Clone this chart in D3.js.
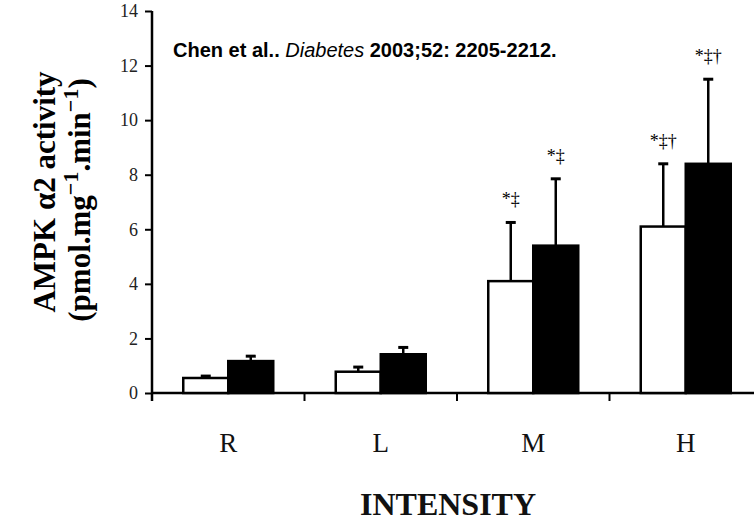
<!DOCTYPE html>
<html><head><meta charset="utf-8">
<script src="https://cdn.jsdelivr.net/npm/d3@7"></script>
<style>body{margin:0;background:#fff}svg{display:block}</style>
</head><body>
<svg id="c" width="754" height="521"></svg>
<script>
const categories = ["R", "L", "M", "H"];
const seriesNames = ["open", "filled"];
const openValues = [0.55, 0.78, 4.1, 6.1];
const openErrors = [0.07, 0.17, 2.15, 2.3];
const filledValues = [1.17, 1.42, 5.4, 8.4];
const filledErrors = [0.18, 0.25, 2.45, 3.1];
const openMarks = ["", "", "*‡", "*‡†"];
const filledMarks = ["", "", "*‡", "*‡†"];
const yTicks = [0, 2, 4, 6, 8, 10, 12, 14];
const citation = ["Chen et al.. ", "Diabetes", " 2003;52: 2205-2212."];

const svg = d3.select("#c");
const serif = "'Liberation Serif','Times New Roman',serif";
const y = d3.scaleLinear().domain([0, 14]).range([393, 11]);
const x = d3.scaleBand().domain(categories).range([152, 762]).padding(0);
const xs = d3.scaleBand().domain(seriesNames).range([0, 90]);
const off = (x.bandwidth() - 90) / 2;

// y axis
const yAxis = d3.axisLeft(y).tickValues(yTicks).tickSize(7).tickPadding(7).tickFormat(d3.format("d"));
const gy = svg.append("g").attr("transform", "translate(152,0)").call(yAxis);
gy.select(".domain").attr("stroke-width", 2.5).attr("d", `M0,${y(14)}V${y(0)+8}`);
gy.selectAll(".tick line").attr("stroke-width", 2);
gy.selectAll(".tick text").attr("font-family", serif).attr("font-size", 18).attr("fill", "#222");

// x axis line and group separators
const bounds = d3.range(0, categories.length).map(i => x.range()[0] + i * x.step());
svg.append("line").attr("x1", 152).attr("x2", 754).attr("y1", y(0)).attr("y2", y(0))
  .attr("stroke", "#000").attr("stroke-width", 2.5);
svg.selectAll(".sep").data(bounds.slice(1)).join("line")
  .attr("x1", d => d).attr("x2", d => d).attr("y1", y(0)).attr("y2", y(0) + 8)
  .attr("stroke", "#000").attr("stroke-width", 2);
svg.selectAll(".xl").data(categories).join("text")
  .attr("x", d => x(d) + x.bandwidth() / 2).attr("y", 452)
  .attr("text-anchor", "middle").attr("font-family", serif).attr("font-size", 27).attr("fill", "#111")
  .text(d => d);

// bars
const data = categories.map((c, i) => ({
  c, items: [
    {s: "open", v: openValues[i], e: openErrors[i], m: openMarks[i]},
    {s: "filled", v: filledValues[i], e: filledErrors[i], m: filledMarks[i]}
  ]}));
const groups = svg.selectAll(".grp").data(data).join("g")
  .attr("transform", d => `translate(${x(d.c) + off},0)`);
const items = groups.selectAll(".it").data(d => d.items).join("g");
// error bars
items.append("line")
  .attr("x1", d => xs(d.s) + xs.bandwidth() / 2).attr("x2", d => xs(d.s) + xs.bandwidth() / 2)
  .attr("y1", d => y(d.v)).attr("y2", d => y(d.v + d.e))
  .attr("stroke", "#000").attr("stroke-width", 2.5);
items.append("line")
  .attr("x1", d => xs(d.s) + xs.bandwidth() / 2 - 5).attr("x2", d => xs(d.s) + xs.bandwidth() / 2 + 5)
  .attr("y1", d => y(d.v + d.e)).attr("y2", d => y(d.v + d.e))
  .attr("stroke", "#000").attr("stroke-width", 3);
items.append("rect")
  .attr("x", d => xs(d.s)).attr("width", xs.bandwidth())
  .attr("y", d => y(d.v)).attr("height", d => y(0) - y(d.v))
  .attr("fill", d => d.s === "open" ? "#fff" : "#000")
  .attr("stroke", "#000").attr("stroke-width", 2.5);
items.append("text")
  .attr("x", d => xs(d.s) + xs.bandwidth() / 2).attr("y", d => y(d.v + d.e) - 17)
  .attr("text-anchor", "middle").attr("font-family", serif).attr("font-size", 18)
  .text(d => d.m);

// citation
const cit = svg.append("text").attr("x", 173).attr("y", 57)
  .attr("font-family", "'Liberation Sans Narrow','Arial Narrow','Liberation Sans',Arial,sans-serif")
  .attr("font-size", 20).attr("font-weight", "bold").attr("fill", "#000");
cit.selectAll("tspan").data(citation).join("tspan")
  .attr("font-style", (d, i) => i === 1 ? "italic" : "normal")
  .attr("font-weight", (d, i) => i === 1 ? "normal" : "bold")
  .attr("xml:space", "preserve")
  .text(d => d);

// axis titles
svg.append("text").attr("transform", "translate(55,192) rotate(-90)")
  .attr("text-anchor", "middle").attr("font-family", serif).attr("font-size", 31).attr("font-weight", "bold")
  .text("AMPK α2 activity");
const t2 = svg.append("text").attr("transform", "translate(90,200) rotate(-90)")
  .attr("text-anchor", "middle").attr("font-family", serif).attr("font-size", 31).attr("font-weight", "bold");
t2.append("tspan").text("(pmol.mg");
t2.append("tspan").attr("dy", -12).attr("font-size", 22).text("−1");
t2.append("tspan").attr("dy", 12).text(".min");
t2.append("tspan").attr("dy", -12).attr("font-size", 22).text("−1");
t2.append("tspan").attr("dy", 12).text(")");

svg.append("text").attr("x", 448).attr("y", 515).attr("text-anchor", "middle")
  .attr("font-family", serif).attr("font-size", 32).attr("font-weight", "bold").attr("fill", "#111")
  .text("INTENSITY");
</script>
</body></html>
